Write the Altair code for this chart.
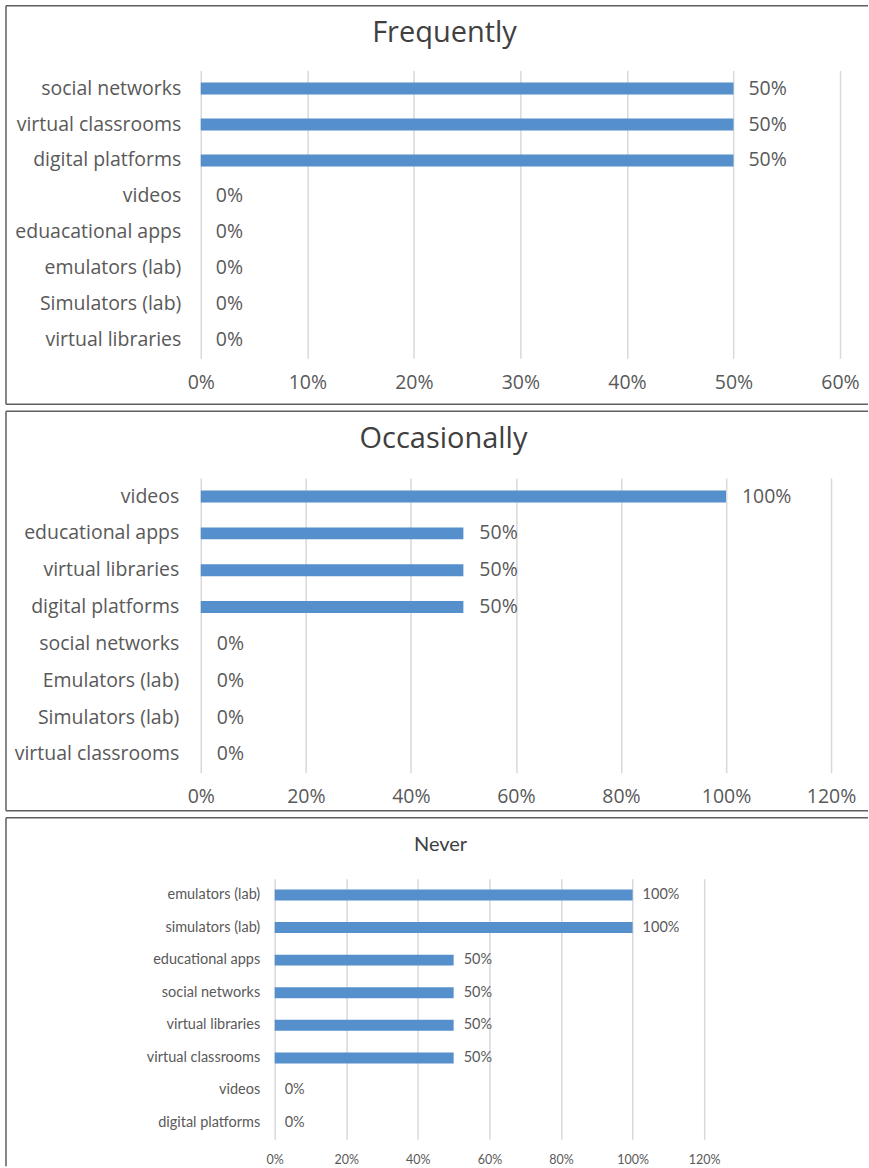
import altair as alt
import pandas as pd

# Share of respondents per resource, one list pair per usage frequency
freq_cats = ["social networks", "virtual classrooms", "digital platforms", "videos",
             "eduacational apps", "emulators (lab)", "Simulators (lab)", "virtual libraries"]
freq_vals = [0.5, 0.5, 0.5, 0.0, 0.0, 0.0, 0.0, 0.0]

occ_cats = ["videos", "educational apps", "virtual libraries", "digital platforms",
            "social networks", "Emulators (lab)", "Simulators (lab)", "virtual classrooms"]
occ_vals = [1.0, 0.5, 0.5, 0.5, 0.0, 0.0, 0.0, 0.0]

never_cats = ["emulators (lab)", "simulators (lab)", "educational apps", "social networks",
              "virtual libraries", "virtual classrooms", "videos", "digital platforms"]
never_vals = [1.0, 1.0, 0.5, 0.5, 0.5, 0.5, 0.0, 0.0]

BAR = "#5590CC"
TEXT = "#595959"
GRID = "#D9D9D9"
FRAME = "#5F5F5F"


def panel(cats, vals, title, xmax, step, w, h, frame, font, fs, xfs, title_fs,
          title_xy, bar_size, ypad, xpad, dx, shift=0, bottom_open=False):
    df = pd.DataFrame({"cat": cats, "v": vals})
    ticks = [round(i * step, 2) for i in range(int(round(xmax / step)) + 1)]
    x = alt.X("v:Q",
              scale=alt.Scale(domain=[0, xmax], nice=False, zero=True,
                              range=[shift, shift + w]),
              axis=alt.Axis(values=ticks, format=".0%", title=None, domain=False,
                            ticks=False, grid=True, gridColor=GRID, gridWidth=1.5,
                            labelFont=font, labelFontSize=xfs, labelColor=TEXT,
                            labelPadding=xpad, labelBaseline="middle",
                            labelFlush=False))
    y = alt.Y("cat:N", sort=cats,
              scale=alt.Scale(paddingInner=0, paddingOuter=0),
              axis=alt.Axis(title=None, domain=False, ticks=False, grid=False,
                            labelFont=font, labelFontSize=fs, labelColor=TEXT,
                            labelPadding=ypad, offset=-shift))
    base = alt.Chart(df)
    bars = base.mark_bar(color=BAR, size=bar_size).encode(x=x, y=y)
    labels = base.mark_text(align="left", baseline="middle", dx=dx, font=font,
                            fontSize=fs, color=TEXT).encode(
        x="v:Q", y=alt.Y("cat:N", sort=cats),
        text=alt.Text("v:Q", format=".0%"))

    # panel frame: top, left and (optionally) bottom edges
    one = alt.Chart(pd.DataFrame({"k": [0]}))
    fl, ft, fr, fb = frame
    sides = [
        one.mark_rule(color=FRAME, strokeWidth=1.5).encode(
            x=alt.value(fl), x2=alt.value(fr), y=alt.value(ft)),
        one.mark_rule(color=FRAME, strokeWidth=1.5).encode(
            x=alt.value(fl), y=alt.value(ft), y2=alt.value(fb)),
    ]
    if not bottom_open:
        sides.append(one.mark_rule(color=FRAME, strokeWidth=1.5).encode(
            x=alt.value(fl), x2=alt.value(fr), y=alt.value(fb)))
    heading = one.mark_text(align="center", baseline="middle", font=font,
                            fontSize=title_fs, color="#404040").encode(
        x=alt.value(title_xy[0]), y=alt.value(title_xy[1]), text=alt.value(title))
    return alt.layer(bars, labels, heading, *sides).properties(width=shift + w, height=h)


p1 = panel(freq_cats, freq_vals, "Frequently", 0.6, 0.1, 640, 288,
           (-195, -65, 668, 334), "Open Sans", 19.5, 19.5, 29, (244, -38),
           12, 20, 24, 15)
p2 = panel(occ_cats, occ_vals, "Occasionally", 1.2, 0.2, 631, 295,
           (-195, -67, 668, 333), "Open Sans", 19.5, 19.5, 29, (243, -39),
           12, 22, 24, 16)
p3 = panel(never_cats, never_vals, "Never", 1.2, 0.2, 430, 261,
           (-195, -61, 668, 288), "Lato", 14.5, 12.5, 20, (240, -34),
           11, 15, 20, 10, shift=74, bottom_open=True)

chart = alt.vconcat(p1, p2, p3, spacing=5).properties(
    padding={"left": 5, "top": 4, "right": 0, "bottom": 0}
).configure(background="white").configure_view(stroke=None)

chart.save("out.html", embed_options={"renderer": "svg", "actions": False})
